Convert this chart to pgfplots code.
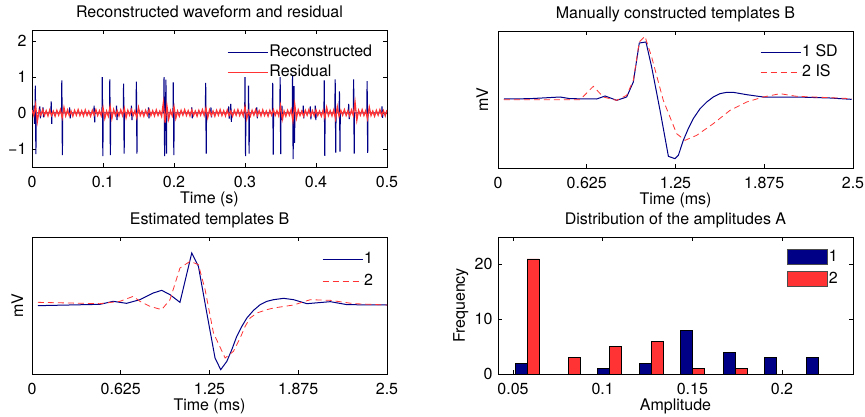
\documentclass[border=0pt]{standalone}
\usepackage{pgfplots}
\pgfplotsset{compat=1.18}
\usepackage{fontspec}
\setmainfont{TeX Gyre Heros}
\definecolor{navy}{RGB}{0,0,135}
\definecolor{lred}{RGB}{255,51,51}

\pgfplotsset{
  panel/.style={
    scale only axis, width=355pt, height=137pt,
    axis line style={line width=0.8pt},
    tick align=inside, major tick length=4pt,
    tick style={line width=0.6pt, black},
    title style={at={(axis description cs:0.5,1)}, anchor=base, yshift=6.5pt},
    xlabel style={at={(axis description cs:0.5,-0.27)}, anchor=base},
    xticklabel style={anchor=base, yshift=-20pt},
    legend cell align=left,
    legend style={draw=none, fill=none, inner sep=0pt, anchor=north west,
      row sep=2pt, nodes={inner sep=1pt, text height=12pt, text depth=4pt}},
    legend image code/.code={\draw[##1] (0pt,0pt) -- (40pt,0pt);},
  },
}

\begin{document}
\fontsize{16}{19}\selectfont
\begin{tikzpicture}
\useasboundingbox (0,0) rectangle (865pt,416pt);

% waveform and residual
\begin{axis}[panel, at={(32pt,249pt)}, anchor=south west,
  title={Reconstructed waveform and residual}, xlabel={Time (s)},
  xmin=0, xmax=0.5, ymin=-1.5, ymax=2.3,
  xtick={0,0.1,0.2,0.3,0.4,0.5}, xticklabels={0,0.1,0.2,0.3,0.4,0.5},
  ytick={-1,0,1,2}, yticklabels={−1,0,1,2},
  legend style={at={(0.549,0.905)}}]
\addplot[navy, line width=1.1pt] coordinates {
(0,0)
(0.0024,0)(0.0028,0.2)(0.0036,-0.3)(0.0040,0)
(0.0043,0)(0.0047,0.76)(0.0055,-1.14)(0.0059,0)
(0.0106,0)(0.011,0.18)(0.0118,-0.15)(0.0122,0)
(0.0151,0)(0.0155,0.15)(0.0163,-0.12)(0.0167,0)
(0.0266,0)(0.027,0.32)(0.0278,-0.3)(0.0282,0)
(0.0416,0)(0.042,0.9)(0.0428,-1.17)(0.0432,0)
(0.0526,0)(0.053,0.15)(0.0538,-0.15)(0.0542,0)
(0.0871,0)(0.0875,0.2)(0.0883,-0.26)(0.0887,0)
(0.0986,0)(0.099,0.99)(0.0998,-1.2)(0.1002,0)
(0.1092,0)(0.1096,0.93)(0.1104,-1.17)(0.1108,0)
(0.1186,0)(0.119,0.2)(0.1198,-0.2)(0.1202,0)
(0.1286,0)(0.129,0.81)(0.1298,-1.13)(0.1302,0)
(0.1396,0)(0.14,0.2)(0.1408,-0.2)(0.1412,0)
(0.1466,0)(0.147,0.87)(0.1478,-1.13)(0.1482,0)
(0.1636,0)(0.164,0.15)(0.1648,-0.15)(0.1652,0)
(0.1856,0)(0.186,0.99)(0.1868,-1.2)(0.1872,0)
(0.1882,0)(0.1886,0.92)(0.1894,-1.13)(0.1898,0)
(0.1986,0)(0.199,0.85)(0.1998,-1.17)(0.2002,0)
(0.2246,0)(0.225,0.15)(0.2258,-0.15)(0.2262,0)
(0.2442,0)(0.2446,0.83)(0.2454,-1.13)(0.2458,0)
(0.2516,0)(0.252,0.15)(0.2528,-0.12)(0.2532,0)
(0.2766,0)(0.277,0.18)(0.2778,-0.16)(0.2782,0)
(0.2796,0)(0.28,0.25)(0.2808,-0.25)(0.2812,0)
(0.2996,0)(0.3,0.99)(0.3008,-1.2)(0.3012,0)
(0.3046,0)(0.305,0.76)(0.3058,-1.13)(0.3062,0)
(0.3162,0)(0.3166,0.15)(0.3174,-0.15)(0.3178,0)
(0.3386,0)(0.339,0.83)(0.3398,-1.16)(0.3402,0)
(0.3491,0)(0.3495,0.99)(0.3503,-1.14)(0.3507,0)
(0.3516,0)(0.352,0.2)(0.3528,-0.2)(0.3532,0)
(0.3666,0)(0.367,1.02)(0.3678,-1.28)(0.3682,0)
(0.3686,0)(0.369,0.74)(0.3698,-0.83)(0.3702,0)
(0.3816,0)(0.382,0.2)(0.3828,-0.15)(0.3832,0)
(0.3916,0)(0.392,0.18)(0.3928,-0.18)(0.3932,0)
(0.3986,0)(0.399,0.2)(0.3998,-0.2)(0.4002,0)
(0.4112,0)(0.4116,0.9)(0.4124,-1.19)(0.4128,0)
(0.4266,0)(0.427,0.93)(0.4278,-1.1)(0.4282,0)
(0.4326,0)(0.433,0.6)(0.4338,-1.07)(0.4342,0)
(0.4456,0)(0.446,0.25)(0.4468,-0.17)(0.4472,0)
(0.4526,0)(0.453,0.93)(0.4538,-1.13)(0.4542,0)
(0.4716,0)(0.472,0.88)(0.4728,-1.11)(0.4732,0)
(0.4926,0)(0.493,0.18)(0.4938,-0.14)(0.4942,0)
(0.5,0)};
\addlegendentry{Reconstructed}
\addplot[lred, line width=1.3pt] coordinates {
(0,0.08)(0.0025,-0.07)(0.005,0.22)(0.0075,-0.24)(0.01,0.07)(0.0125,-0.06)(0.015,0.09)(0.0175,-0.07)(0.02,0.06)(0.0225,-0.08)
(0.025,0.08)(0.0275,-0.07)(0.03,0.05)(0.0325,-0.09)(0.035,0.07)(0.0375,-0.06)(0.04,0.09)(0.0425,-0.13)(0.045,0.15)(0.0475,-0.08)
(0.05,0.08)(0.0525,-0.07)(0.055,0.05)(0.0575,-0.09)(0.06,0.07)(0.0625,-0.06)(0.065,0.09)(0.0675,-0.07)(0.07,0.06)(0.0725,-0.08)
(0.075,0.08)(0.0775,-0.07)(0.08,0.05)(0.0825,-0.09)(0.085,0.07)(0.0875,-0.06)(0.09,0.09)(0.0925,-0.07)(0.095,0.06)(0.0975,-0.08)
(0.1,0.15)(0.1025,-0.15)(0.105,0.05)(0.1075,-0.09)(0.11,0.18)(0.1125,-0.15)(0.115,0.09)(0.1175,-0.07)(0.12,0.06)(0.1225,-0.08)
(0.125,0.08)(0.1275,-0.07)(0.13,0.13)(0.1325,-0.13)(0.135,0.07)(0.1375,-0.06)(0.14,0.09)(0.1425,-0.07)(0.145,0.06)(0.1475,-0.13)
(0.15,0.15)(0.1525,-0.07)(0.155,0.05)(0.1575,-0.09)(0.16,0.07)(0.1625,-0.06)(0.165,0.09)(0.1675,-0.07)(0.17,0.06)(0.1725,-0.08)
(0.175,0.08)(0.1775,-0.07)(0.18,0.05)(0.1825,-0.09)(0.185,0.28)(0.1875,-0.27)(0.19,0.2)(0.1925,-0.17)(0.195,0.06)(0.1975,-0.08)
(0.2,0.17)(0.2025,-0.15)(0.205,0.05)(0.2075,-0.09)(0.21,0.07)(0.2125,-0.06)(0.215,0.09)(0.2175,-0.07)(0.22,0.06)(0.2225,-0.08)
(0.225,0.08)(0.2275,-0.07)(0.23,0.05)(0.2325,-0.09)(0.235,0.07)(0.2375,-0.06)(0.24,0.09)(0.2425,-0.07)(0.245,0.13)(0.2475,-0.13)
(0.25,0.08)(0.2525,-0.07)(0.255,0.05)(0.2575,-0.09)(0.26,0.07)(0.2625,-0.06)(0.265,0.09)(0.2675,-0.07)(0.27,0.06)(0.2725,-0.08)
(0.275,0.08)(0.2775,-0.07)(0.28,0.05)(0.2825,-0.09)(0.285,0.07)(0.2875,-0.06)(0.29,0.09)(0.2925,-0.07)(0.295,0.06)(0.2975,-0.08)
(0.3,0.17)(0.3025,-0.16)(0.305,0.05)(0.3075,-0.09)(0.31,0.07)(0.3125,-0.06)(0.315,0.09)(0.3175,-0.07)(0.32,0.06)(0.3225,-0.08)
(0.325,0.08)(0.3275,-0.07)(0.33,0.05)(0.3325,-0.09)(0.335,0.07)(0.3375,-0.06)(0.34,0.09)(0.3425,-0.07)(0.345,0.06)(0.3475,-0.08)
(0.35,0.2)(0.3525,-0.18)(0.355,0.05)(0.3575,-0.09)(0.36,0.07)(0.3625,-0.06)(0.365,0.09)(0.3675,-0.22)(0.37,0.24)(0.3725,-0.14)
(0.375,0.08)(0.3775,-0.07)(0.38,0.05)(0.3825,-0.09)(0.385,0.07)(0.3875,-0.06)(0.39,0.09)(0.3925,-0.07)(0.395,0.06)(0.3975,-0.08)
(0.4,0.08)(0.4025,-0.07)(0.405,0.05)(0.4075,-0.09)(0.41,0.07)(0.4125,-0.13)(0.415,0.15)(0.4175,-0.07)(0.42,0.06)(0.4225,-0.08)
(0.425,0.08)(0.4275,-0.16)(0.43,0.17)(0.4325,-0.09)(0.435,0.07)(0.4375,-0.06)(0.44,0.09)(0.4425,-0.07)(0.445,0.06)(0.4475,-0.08)
(0.45,0.08)(0.4525,-0.07)(0.455,0.3)(0.4575,-0.2)(0.46,0.07)(0.4625,-0.06)(0.465,0.09)(0.4675,-0.07)(0.47,0.06)(0.4725,-0.16)
(0.475,0.16)(0.4775,-0.07)(0.48,0.05)(0.4825,-0.09)(0.485,0.07)(0.4875,-0.06)(0.49,0.09)(0.4925,-0.07)(0.495,0.06)(0.4975,-0.08)
(0.5,0.08)};
\addlegendentry{Residual}
\end{axis}

% manually constructed templates
\begin{axis}[panel, at={(498pt,248pt)}, anchor=south west,
  title={Manually constructed templates B}, xlabel={Time (ms)}, ylabel={mV},
  ylabel style={at={(axis description cs:-0.028,0.5)}, anchor=base, rotate=0},
  xmin=0, xmax=2.5, ymin=-503, ymax=-92, ytick=\empty,
  xtick={0,0.625,1.25,1.875,2.5}, xticklabels={0,0.625,1.25,1.875,2.5},
  legend style={at={(0.738,0.909)}}]
\addplot[navy, line width=1pt] coordinates {
(0.042,-296)(0.225,-295)(0.437,-290)(0.507,-295)(0.695,-296)(0.754,-287)
(0.836,-300)(0.906,-290)(0.953,-245)(0.995,-128)(1.042,-125)(1.082,-200)
(1.141,-330)(1.2,-468)(1.246,-475)(1.27,-465)(1.305,-420)(1.34,-385)
(1.375,-355)(1.423,-325)(1.47,-305)(1.516,-290)(1.563,-280)(1.61,-276)
(1.657,-276)(1.751,-283)(1.868,-290)(2.103,-290)(2.338,-293)(2.49,-297)};
\addlegendentry{1 SD}
\addplot[lred, line width=0.8pt, dash pattern=on 6pt off 4pt] coordinates {
(0.042,-298)(0.225,-298)(0.507,-298)(0.578,-298)(0.671,-258)(0.742,-290)
(0.836,-300)(0.906,-285)(0.953,-240)(0.995,-125)(1.035,-108)(1.082,-170)
(1.164,-300)(1.258,-400)(1.317,-420)(1.399,-405)(1.516,-370)(1.634,-330)
(1.751,-305)(1.868,-290)(1.986,-280)(2.103,-288)(2.338,-292)(2.49,-295)};
\addlegendentry{2 IS}
\end{axis}

% estimated templates
\begin{axis}[panel, at={(32pt,42pt)}, anchor=south west,
  title={Estimated templates B}, xlabel={Time (ms)}, ylabel={mV},
  ylabel style={at={(axis description cs:-0.025,0.5)}, anchor=base, rotate=0},
  xmin=0, xmax=2.5, ymin=-523, ymax=-112, ytick=\empty,
  xtick={0,0.625,1.25,1.875,2.5}, xticklabels={0,0.625,1.25,1.875,2.5},
  legend style={at={(0.817,0.901)}, row sep=4pt}]
\addplot[navy, line width=1pt] coordinates {
(0.042,-318)(0.478,-314)(0.572,-305)(0.666,-311)(0.76,-300)(0.854,-280)
(0.913,-272)(0.972,-285)(1.042,-308)(1.125,-160)(1.172,-200)(1.231,-340)
(1.289,-475)(1.329,-510)(1.372,-485)(1.407,-450)(1.442,-410)(1.478,-380)
(1.513,-355)(1.56,-332)(1.607,-315)(1.654,-305)(1.701,-300)(1.772,-296)
(1.842,-300)(1.936,-312)(2.101,-306)(2.219,-315)(2.5,-316)};
\addlegendentry{1}
\addplot[lred, line width=0.8pt, dash pattern=on 6pt off 4pt] coordinates {
(0.042,-308)(0.478,-312)(0.619,-305)(0.713,-290)(0.76,-305)(0.831,-320)
(0.913,-330)(0.972,-300)(1.042,-205)(1.113,-185)(1.172,-195)(1.219,-270)
(1.278,-400)(1.36,-475)(1.419,-455)(1.466,-415)(1.501,-380)(1.536,-355)
(1.584,-340)(1.654,-330)(1.701,-325)(1.842,-316)(1.96,-300)(2.101,-302)
(2.266,-312)(2.5,-316)};
\addlegendentry{2}
\end{axis}

% amplitude histogram
\begin{axis}[panel, at={(498pt,42pt)}, anchor=south west,
  title={Distribution of the amplitudes A}, xlabel={Amplitude}, ylabel={Frequency},
  ylabel style={at={(axis description cs:-0.093,0.5)}, anchor=base, rotate=0},
  xmin=0.0416, xmax=0.2396, ymin=0, ymax=25,
  xtick={0.05,0.1,0.15,0.2}, xticklabels={0.05,0.1,0.15,0.2},
  ytick={0,10,20}, yticklabels={0,10,20},
  legend style={at={(0.814,0.92)}, row sep=4pt},
  legend image code/.code={\draw[#1, draw=gray!60!black, line width=0.8pt] (0pt,-7.5pt) rectangle (40pt,7.5pt);}]
\addplot[ybar, bar width=0.00669, bar shift=0pt, fill=navy, draw=black, line width=0.8pt] coordinates {
(0.05446,2)(0.07756,0)(0.10066,1)(0.12376,2)(0.14686,8)(0.17066,4)(0.19366,3)(0.21686,3)};
\addlegendentry{1}
\addplot[ybar, bar width=0.00669, bar shift=0pt, fill=lred, draw=black, line width=0.8pt] coordinates {
(0.06114,21)(0.08424,3)(0.10734,5)(0.13034,6)(0.15334,1)(0.17734,1)(0.20034,0)(0.22354,0)};
\addlegendentry{2}
\end{axis}
\end{tikzpicture}
\end{document}
